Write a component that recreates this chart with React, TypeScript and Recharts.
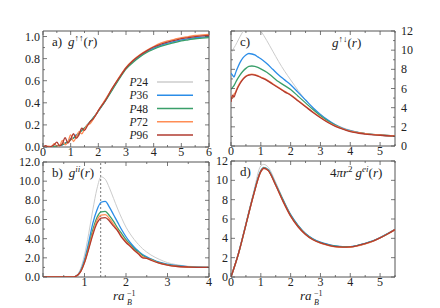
import React from "react";
import { LineChart, Line, XAxis, YAxis, ReferenceArea, ReferenceLine } from "recharts";

const W = 440;
const H = 308;
const AX = 10;
const INK = "#555";
const TXT = "#222";
const FONT = "'Liberation Serif', 'DejaVu Serif', 'Times New Roman', serif";

const SERIES = [
  { key: "p24", name: "24", color: "#cccccc", width: 1 },
  { key: "p36", name: "36", color: "#2b8de8", width: 1.3 },
  { key: "p48", name: "48", color: "#3a9f6a", width: 1.3 },
  { key: "p72", name: "72", color: "#ff8d55", width: 1.3 },
  { key: "p96", name: "96", color: "#b13b30", width: 1.3 },
];

// a) g↑↑(r)
const aR = [0, 0.1, 0.2, 0.3, 0.4, 0.5, 0.6, 0.7, 0.8, 0.9, 1.0, 1.1, 1.2, 1.3, 1.4, 1.5, 1.6, 1.7, 1.8, 1.9, 2.0, 2.25, 2.5, 2.75, 3.0, 3.25, 3.5, 3.75, 4.0, 4.25, 4.5, 4.75, 5.0, 5.25, 5.5, 5.75, 6.0];
const aP24 = [0, 0, 0, 0, 0.002, 0.006, 0.012, 0.02, 0.03, 0.045, 0.06, 0.08, 0.1, 0.12, 0.145, 0.17, 0.195, 0.225, 0.255, 0.29, 0.325, 0.42, 0.52, 0.62, 0.71, 0.77, 0.82, 0.86, 0.89, 0.915, 0.935, 0.95, 0.965, 0.975, 0.985, 0.99, 0.995];
const aP36 = [0, 0, 0, 0, 0.005, 0.01, 0.015, 0.02, 0.035, 0.05, 0.075, 0.08, 0.11, 0.125, 0.155, 0.17, 0.2, 0.225, 0.26, 0.29, 0.325, 0.42, 0.52, 0.62, 0.715, 0.775, 0.825, 0.865, 0.895, 0.92, 0.94, 0.955, 0.97, 0.98, 0.99, 0.995, 1.0];
const aP48 = [0, 0, 0, 0, 0.003, 0.008, 0.014, 0.022, 0.032, 0.048, 0.065, 0.082, 0.1, 0.122, 0.148, 0.172, 0.198, 0.228, 0.258, 0.29, 0.325, 0.415, 0.515, 0.615, 0.705, 0.765, 0.815, 0.855, 0.885, 0.91, 0.93, 0.945, 0.96, 0.97, 0.98, 0.985, 0.99];
const aP72 = [0, 0, 0.008, 0.002, 0.03, 0.01, 0.012, 0.06, 0.02, 0.045, 0.11, 0.05, 0.09, 0.14, 0.12, 0.16, 0.2, 0.21, 0.245, 0.29, 0.33, 0.43, 0.53, 0.63, 0.72, 0.785, 0.835, 0.875, 0.91, 0.94, 0.96, 0.975, 0.99, 1.0, 1.01, 1.015, 1.02];
const aP96 = [0, 0.012, 0, 0.005, 0.02, 0.045, 0.01, 0.03, 0.085, 0.035, 0.07, 0.12, 0.08, 0.11, 0.17, 0.15, 0.19, 0.23, 0.25, 0.285, 0.33, 0.42, 0.53, 0.625, 0.715, 0.78, 0.83, 0.87, 0.905, 0.93, 0.95, 0.965, 0.98, 0.99, 1.0, 1.005, 1.01];

// b) g^ii(r)
const bR = [0, 0.5, 0.7, 0.8, 0.9, 1.0, 1.1, 1.2, 1.3, 1.4, 1.5, 1.6, 1.7, 1.8, 1.9, 2.0, 2.1, 2.2, 2.3, 2.4, 2.5, 2.6, 2.8, 3.0, 3.2, 3.5, 4.0];
const bP24 = [0, 0, 0, 0.15, 0.8, 2.3, 4.5, 7.0, 9.2, 10.45, 10.2, 9.3, 8.2, 7.1, 6.1, 5.2, 4.5, 3.9, 3.4, 2.95, 2.6, 2.3, 1.85, 1.5, 1.3, 1.12, 1.02];
const bP36 = [0, 0, 0, 0.1, 0.6, 1.8, 3.6, 5.6, 7.0, 7.8, 7.9, 7.3, 6.5, 5.7, 4.9, 4.2, 3.6, 3.1, 2.7, 2.35, 2.1, 1.9, 1.55, 1.35, 1.2, 1.08, 1.0];
const bP48 = [0, 0, 0, 0.1, 0.55, 1.6, 3.2, 4.9, 6.2, 6.8, 6.85, 6.4, 5.8, 5.1, 4.5, 3.9, 3.4, 2.95, 2.6, 2.25, 2.0, 1.85, 1.5, 1.3, 1.15, 1.05, 1.0];
const bP72 = [0, 0, 0, 0.1, 0.5, 1.5, 3.0, 4.6, 5.9, 6.45, 6.5, 6.1, 5.5, 4.9, 4.2, 3.7, 3.3, 2.75, 2.5, 2.1, 1.95, 1.8, 1.45, 1.25, 1.12, 1.04, 1.0];
const bP96 = [0, 0, 0, 0.1, 0.5, 1.5, 2.9, 4.4, 5.6, 6.15, 6.2, 5.85, 5.3, 4.8, 4.1, 3.6, 3.2, 2.8, 2.4, 2.0, 1.95, 1.75, 1.45, 1.25, 1.12, 1.04, 1.0];

// c) g↑↓(r)
const cR = [0, 0.05, 0.1, 0.15, 0.2, 0.3, 0.4, 0.5, 0.6, 0.7, 0.8, 0.9, 1.0, 1.2, 1.4, 1.6, 1.8, 2.0, 2.25, 2.5, 2.75, 3.0, 3.25, 3.5, 3.75, 4.0, 4.5, 5.0, 5.5];
const cP24 = [9.7, 9.95, 10.25, 10.5, 10.8, 11.4, 11.95, 12.6, 12.9, 13.0, 12.8, 12.4, 12.0, 11.0, 9.9, 8.8, 7.8, 6.9, 5.8, 4.8, 3.95, 3.3, 2.7, 2.25, 1.9, 1.65, 1.3, 1.15, 1.05];
const cP36 = [7.6, 7.4, 7.2, 7.6, 8.0, 8.7, 9.2, 9.5, 9.65, 9.6, 9.5, 9.3, 9.1, 8.6, 8.0, 7.4, 6.9, 6.4, 5.6, 4.8, 4.0, 3.3, 2.7, 2.2, 1.85, 1.6, 1.3, 1.15, 1.05];
const cP48 = [5.9, 6.1, 6.3, 6.6, 6.9, 7.4, 7.8, 8.1, 8.3, 8.35, 8.3, 8.2, 8.05, 7.7, 7.2, 6.7, 6.3, 5.9, 5.2, 4.5, 3.8, 3.15, 2.6, 2.15, 1.8, 1.55, 1.3, 1.15, 1.05];
const cP72 = [5.2, 5.0, 5.4, 5.6, 6.0, 6.6, 7.0, 7.3, 7.45, 7.5, 7.45, 7.35, 7.2, 6.9, 6.5, 6.1, 5.7, 5.35, 4.75, 4.15, 3.55, 3.0, 2.5, 2.1, 1.8, 1.55, 1.3, 1.15, 1.05];
const cP96 = [4.6, 5.3, 5.1, 5.5, 5.9, 6.5, 6.95, 7.25, 7.4, 7.45, 7.4, 7.3, 7.15, 6.85, 6.45, 6.05, 5.65, 5.3, 4.7, 4.1, 3.5, 2.95, 2.45, 2.05, 1.75, 1.5, 1.25, 1.12, 1.03];

// d) 4πr² g^ei(r)
const dR = [0, 0.25, 0.5, 0.75, 1.0, 1.1, 1.25, 1.5, 1.75, 2.0, 2.25, 2.5, 2.75, 3.0, 3.25, 3.5, 3.75, 4.0, 4.25, 4.5, 4.75, 5.0, 5.25, 5.5];
const dP24 = [0, 2.5, 5.6, 8.7, 11.5, 11.65, 11.35, 9.8, 8.05, 6.5, 5.35, 4.5, 3.95, 3.6, 3.38, 3.22, 3.15, 3.15, 3.28, 3.48, 3.73, 4.08, 4.48, 4.93];
const dP36 = [0, 2.45, 5.45, 8.5, 11.0, 11.35, 11.1, 9.6, 7.95, 6.45, 5.35, 4.5, 3.95, 3.6, 3.38, 3.22, 3.15, 3.15, 3.28, 3.48, 3.73, 4.08, 4.48, 4.93];
const dP48 = [0, 2.4, 5.4, 8.45, 10.95, 11.3, 11.05, 9.55, 7.9, 6.38, 5.28, 4.45, 3.9, 3.55, 3.33, 3.18, 3.12, 3.13, 3.26, 3.46, 3.71, 4.06, 4.46, 4.91];
const dP72 = [0, 2.4, 5.4, 8.4, 10.9, 11.25, 11.0, 9.5, 7.8, 6.3, 5.2, 4.4, 3.85, 3.5, 3.28, 3.12, 3.06, 3.08, 3.22, 3.43, 3.69, 4.04, 4.45, 4.9];
const dP96 = [0, 2.4, 5.4, 8.4, 10.9, 11.25, 11.0, 9.5, 7.8, 6.3, 5.2, 4.4, 3.85, 3.52, 3.3, 3.15, 3.1, 3.12, 3.25, 3.45, 3.7, 4.05, 4.45, 4.9];

const zip = (r: number[], cols: number[][]) =>
  r.map((x, i) => ({ r: x, p24: cols[0][i], p36: cols[1][i], p48: cols[2][i], p72: cols[3][i], p96: cols[4][i] }));

type Frame = { left: number; right: number; top: number; bottom: number };

const FA: Frame = { left: 43, right: 209, top: 31, bottom: 147 };
const FB: Frame = { left: 43, right: 209, top: 162, bottom: 277 };
const FC: Frame = { left: 231, right: 395, top: 31, bottom: 146 };
const FD: Frame = { left: 231, right: 395, top: 161, bottom: 277 };

const has = (arr: number[], v: number) => arr.some((m) => Math.abs(m - v) < 1e-6);
const TS = { fontFamily: FONT };

function xTick(f: Frame, majors: number[], labels: number[], fmt: (v: number) => string) {
  return (p: any) => {
    const v = p.payload.value;
    const x = p.x;
    const len = has(majors, v) ? 4 : 2;
    return (
      <g>
        <line x1={x} x2={x} y1={f.bottom} y2={f.bottom - len} stroke={INK} strokeWidth={0.8} />
        <line x1={x} x2={x} y1={f.top} y2={f.top + len} stroke={INK} strokeWidth={0.8} />
        {has(labels, v) && (
          <text x={x} y={f.bottom + 9} textAnchor="middle" fontSize={12} style={TS} fill={TXT}>
            {fmt(v)}
          </text>
        )}
      </g>
    );
  };
}

function yTick(f: Frame, majors: number[], labels: number[], fmt: (v: number) => string, side: "left" | "right", lines = true) {
  return (p: any) => {
    const v = p.payload.value;
    const y = p.y;
    const len = has(majors, v) ? 4 : 2;
    return (
      <g>
        {lines && <line x1={f.left} x2={f.left + len} y1={y} y2={y} stroke={INK} strokeWidth={0.8} />}
        {lines && <line x1={f.right} x2={f.right - len} y1={y} y2={y} stroke={INK} strokeWidth={0.8} />}
        {has(labels, v) && (
          <text
            x={side === "left" ? f.left - 3 : f.right + 6}
            y={y + 4}
            textAnchor={side === "left" ? "end" : "start"}
            fontSize={12}
            style={TS}
            fill={TXT}
          >
            {fmt(v)}
          </text>
        )}
      </g>
    );
  };
}

const range = (a: number, b: number, s: number) => {
  const out: number[] = [];
  for (let v = a; v <= b + 1e-9; v += s) out.push(Math.round(v * 1000) / 1000);
  return out;
};

function Series() {
  return SERIES.map((s) => (
    <Line
      key={s.key}
      type="monotone"
      dataKey={s.key}
      stroke={s.color}
      strokeWidth={s.width}
      dot={false}
      isAnimationActive={false}
    />
  ));
}

function Panel({
  f,
  rows,
  xDomain,
  xMinor,
  xMajor,
  xLabels,
  yDomain,
  yMinor,
  yMajor,
  yLabels,
  yFmt,
  ySide,
  extra,
  rightAxis,
}: any) {
  const leftW = ySide === "left" ? AX : 0;
  const rightW = ySide === "right" || rightAxis ? AX : 0;
  return (
    <div style={{ position: "absolute", left: 0, top: 0 }}>
      <LineChart
        width={W}
        height={H}
        data={rows}
        margin={{ top: f.top, bottom: H - f.bottom - AX, left: f.left - leftW, right: W - f.right - rightW }}
      >
        <XAxis
          dataKey="r"
          type="number"
          domain={xDomain}
          ticks={xMinor}
          interval={0}
          height={AX}
          axisLine={false}
          tickLine={false}
          allowDataOverflow
          tick={xTick(f, xMajor, xLabels, (v) => String(v))}
        />
        <YAxis
          type="number"
          orientation={ySide}
          domain={yDomain}
          ticks={yMinor}
          interval={0}
          width={AX}
          axisLine={false}
          tickLine={false}
          allowDataOverflow
          tick={yTick(f, yMajor, yLabels, yFmt, ySide)}
        />
        {rightAxis && (
          <YAxis
            yAxisId="r"
            type="number"
            orientation="right"
            domain={rightAxis.domain}
            ticks={rightAxis.ticks}
            interval={0}
            width={AX}
            axisLine={false}
            tickLine={false}
            tick={yTick(f, rightAxis.ticks, rightAxis.labels, rightAxis.fmt, "right", false)}
          />
        )}
        <ReferenceArea
          x1={xDomain[0]}
          x2={xDomain[1]}
          y1={yDomain[0]}
          y2={yDomain[1]}
          fill="none"
          stroke={INK}
          strokeWidth={1}
          ifOverflow="visible"
        />
        {extra}
        {Series()}
      </LineChart>
    </div>
  );
}

const T = { style: TS, fill: TXT };

function AxisTitle({ x }: { x: number }) {
  return (
    <g>
      <text x={x} y={300} fontSize={13} {...T}>
        <tspan fontStyle="italic">ra</tspan>
      </text>
      <text x={x + 14} y={305} fontSize={8} fontStyle="italic" {...T}>B</text>
      <text x={x + 14} y={296} fontSize={8} {...T}>−1</text>
    </g>
  );
}

function Overlay() {
  return (
    <svg width={W} height={H} style={{ position: "absolute", left: 0, top: 0, fontFamily: FONT }}>
      {/* panel labels */}
      <text x={52} y={46} fontSize={13} {...T}>
        a)
        <tspan dx={6} fontStyle="italic">g</tspan>
        <tspan dy={-5} fontSize={9}>↑↑</tspan>
        <tspan dy={5}>(</tspan>
        <tspan fontStyle="italic">r</tspan>)
      </text>
      <text x={52} y={177} fontSize={13} {...T}>
        b)
        <tspan dx={6} fontStyle="italic">g</tspan>
        <tspan dy={-5} fontSize={9} fontStyle="italic">ii</tspan>
        <tspan dy={5}>(</tspan>
        <tspan fontStyle="italic">r</tspan>)
      </text>
      <text x={240} y={46} fontSize={13} {...T}>c)</text>
      <text x={332} y={47} fontSize={13} {...T}>
        <tspan fontStyle="italic">g</tspan>
        <tspan dy={-5} fontSize={9}>↑↓</tspan>
        <tspan dy={5}>(</tspan>
        <tspan fontStyle="italic">r</tspan>)
      </text>
      <text x={240} y={176} fontSize={13} {...T}>d)</text>
      <text x={330} y={177} fontSize={13} {...T}>
        4
        <tspan fontStyle="italic">πr</tspan>
        <tspan dy={-5} fontSize={9}>2</tspan>
        <tspan dy={5} dx={3} fontStyle="italic">g</tspan>
        <tspan dy={-5} fontSize={9} fontStyle="italic">ei</tspan>
        <tspan dy={5}>(</tspan>
        <tspan fontStyle="italic">r</tspan>)
      </text>

      {/* x-axis titles */}
      <AxisTitle x={113} />
      <AxisTitle x={300} />

      {/* legend */}
      {SERIES.map((s, i) => {
        const y = 82 + i * 13.25;
        return (
          <g key={s.key}>
            <text x={148} y={y + 4} textAnchor="end" fontSize={11.5} {...T}>
              <tspan fontStyle="italic">P</tspan>
              {s.name}
            </text>
            <line x1={157} x2={193} y1={y} y2={y} stroke={s.color} strokeWidth={1.4} />
          </g>
        );
      })}
    </svg>
  );
}

export default function App() {
  const rowsA = zip(aR, [aP24, aP36, aP48, aP72, aP96]);
  const rowsB = zip(bR, [bP24, bP36, bP48, bP72, bP96]);
  const rowsC = zip(cR, [cP24, cP36, cP48, cP72, cP96]);
  const rowsD = zip(dR, [dP24, dP36, dP48, dP72, dP96]);

  return (
    <div style={{ position: "absolute", left: 0, top: 0, width: W, height: H, background: "#fff", fontFamily: FONT }}>
      <Panel
        f={FA}
        rows={rowsA}
        xDomain={[0, 6]}
        xMinor={range(0, 6, 0.5)}
        xMajor={range(0, 6, 1)}
        xLabels={range(0, 6, 1)}
        yDomain={[0, 1.05]}
        yMinor={range(0, 1, 0.1)}
        yMajor={range(0, 1, 0.2)}
        yLabels={range(0, 1, 0.2)}
        yFmt={(v: number) => v.toFixed(1)}
        ySide="left"
      />
      <Panel
        f={FB}
        rows={rowsB}
        xDomain={[0, 4]}
        xMinor={range(0, 4, 0.5)}
        xMajor={range(0, 4, 1)}
        xLabels={[1, 2, 3, 4]}
        yDomain={[0, 12]}
        yMinor={range(0, 12, 1)}
        yMajor={range(0, 12, 2)}
        yLabels={range(0, 12, 2)}
        yFmt={(v: number) => v.toFixed(1)}
        ySide="left"
        extra={<ReferenceLine x={1.39} stroke={INK} strokeWidth={0.8} strokeDasharray="2 2" />}
      />
      <Panel
        f={FC}
        rows={rowsC}
        xDomain={[0, 5.5]}
        xMinor={range(0, 5.5, 0.5)}
        xMajor={range(0, 5, 1)}
        xLabels={range(0, 5, 1)}
        yDomain={[0, 12]}
        yMinor={range(0, 12, 1)}
        yMajor={range(0, 12, 2)}
        yLabels={range(0, 12, 2)}
        yFmt={(v: number) => String(v)}
        ySide="right"
      />
      <Panel
        f={FD}
        rows={rowsD}
        xDomain={[0, 5.5]}
        xMinor={range(0, 5.5, 0.5)}
        xMajor={range(0, 5, 1)}
        xLabels={range(0, 5, 1)}
        yDomain={[0, 12]}
        yMinor={range(0, 12, 2)}
        yMajor={range(0, 12, 2)}
        yLabels={range(0, 12, 2)}
        yFmt={(v: number) => String(v)}
        ySide="left"
        rightAxis={{
          domain: [0, 0.6],
          ticks: range(0, 0.6, 0.1),
          labels: [0, 0.2, 0.4, 0.6],
          fmt: (v: number) => (v === 0 ? "0" : v.toFixed(1)),
        }}
      />
      <Overlay />
    </div>
  );
}
